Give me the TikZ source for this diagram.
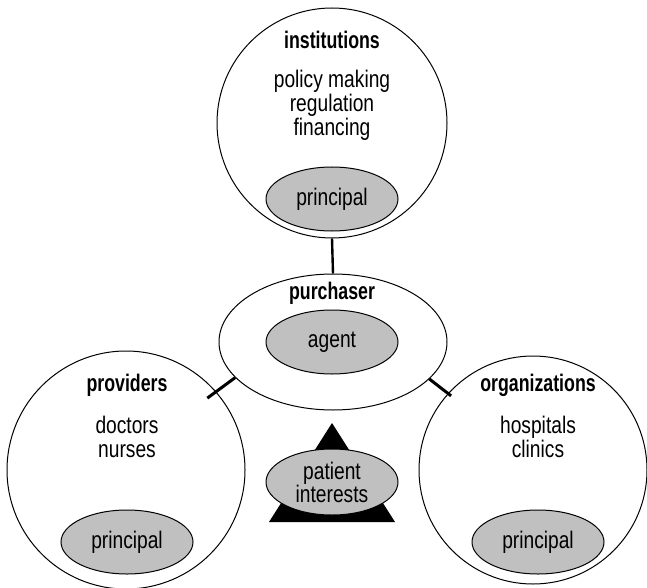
\documentclass[tikz,border=0pt]{standalone}
\usepackage{fontspec}
\setmainfont{Liberation Sans}[FakeStretch=0.8,BoldFeatures={FakeStretch=0.74}]
\usetikzlibrary{shapes.geometric}
\definecolor{roleGray}{RGB}{192,192,192}
\tikzset{
  party/.style={draw,circle,inner sep=0pt,line width=1pt},
  role/.style={draw,ellipse,fill=roleGray,inner sep=0pt,line width=1pt,
    minimum width=132pt,minimum height=64pt,align=center,
    font=\fontsize{24}{23}\selectfont},
  head/.style={font=\fontsize{24}{24}\selectfont\bfseries},
  body/.style={align=center,font=\fontsize{24}{24}\selectfont},
  link/.style={line width=2.4pt},
  tick/.style={line width=3pt}
}

\begin{document}
\begin{tikzpicture}[x=1pt,y=-1pt]
  \useasboundingbox (0,0) rectangle (647,588);
  % the three principals
  \node[party,minimum size=230pt] (inst) at (332,123) {};
  \node[party,minimum size=238pt] (prov) at (126,470) {};
  \node[party,minimum size=228pt] (org) at (533,470) {};
  % purchaser in the middle
  \node[draw,ellipse,inner sep=0pt,line width=1pt,
    minimum width=228pt,minimum height=136pt] (purch) at (333,342) {};

  \node[head] (instHead) at (332,40) {institutions};
  \node[body] (instBody) at (332,105) {policy making\\regulation\\financing};
  \node[role] (instRole) at (332,199) {principal};

  \node[head] (provHead) at (127,385) {providers};
  \node[body] (provBody) at (127,437) {doctors\\nurses};
  \node[role] (provRole) at (127,542) {principal};

  \node[head] (orgHead) at (538,385) {organizations};
  \node[body] (orgBody) at (538,437) {hospitals\\clinics};
  \node[role] (orgRole) at (538,542) {principal};

  \node[head] (purchHead) at (332,293) {purchaser};
  \node[role] (agent) at (332,342) {agent};

  % links
  \draw[link] (inst.south) -- (purch.north);
  \draw[tick,shorten >=-11pt] (purch.200) -- (prov.41);
  \draw[tick,shorten >=-4pt] (purch.339) -- (org.138);

  % patient interests on its pedestal
  \fill (332,423) -- (269,522) -- (395,522) -- cycle;
  \node[role,minimum height=66pt] (patient) at (332,482) {patient\\interests};
\end{tikzpicture}
\end{document}
